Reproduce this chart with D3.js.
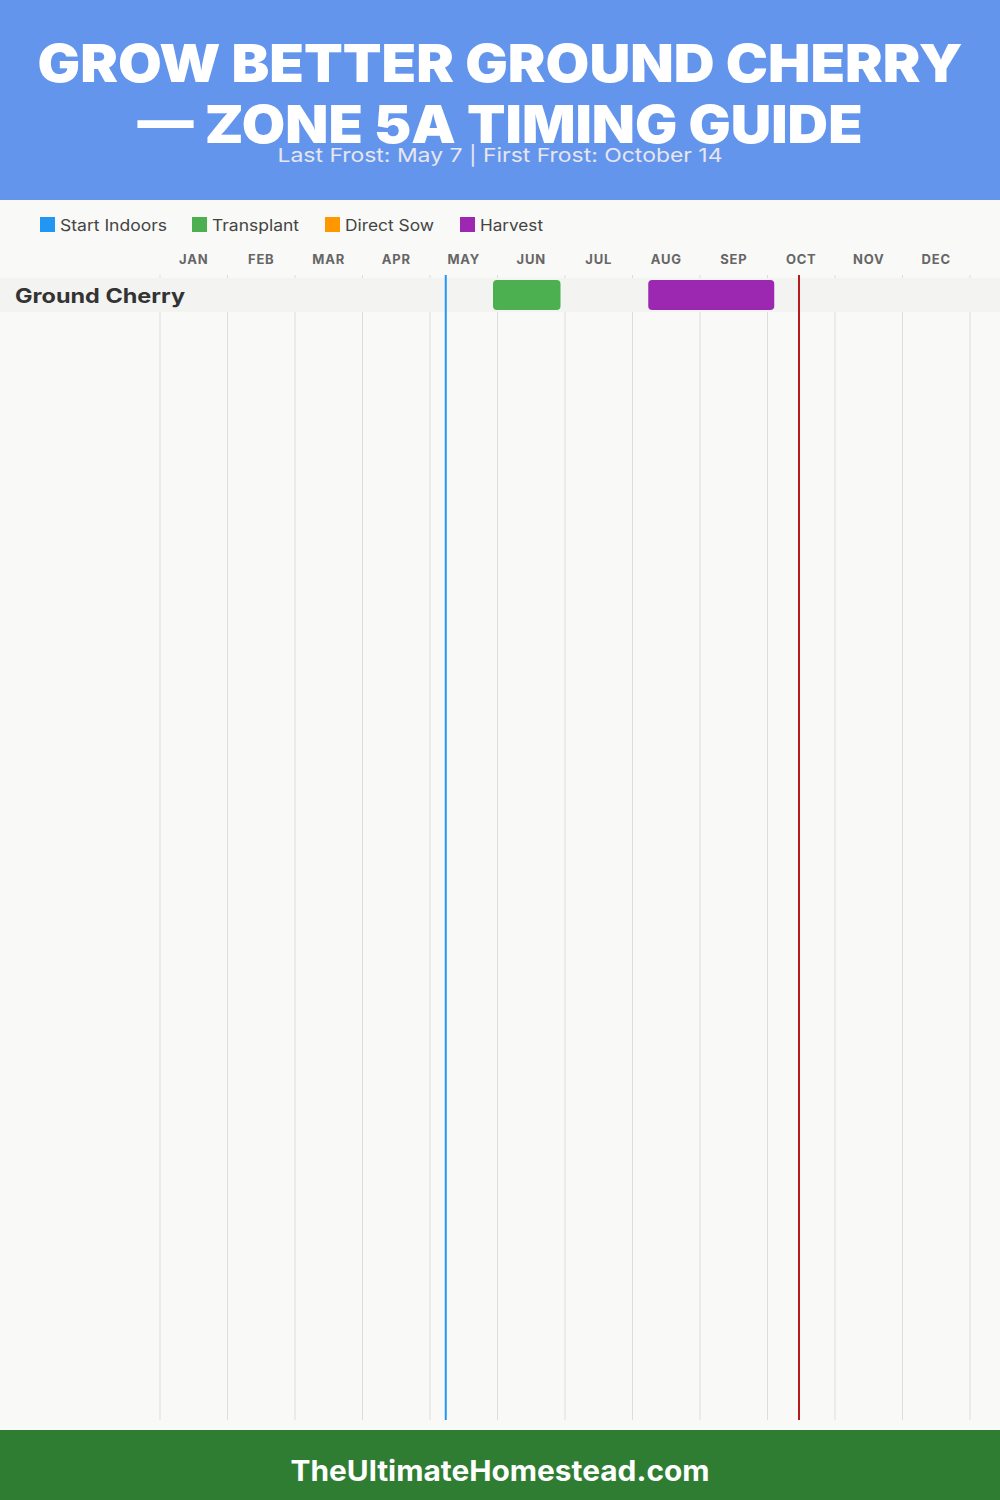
<!DOCTYPE html>
<html><head><meta charset="utf-8">
<script src="https://cdn.jsdelivr.net/npm/d3@7"></script>
<style>html,body{margin:0;padding:0;background:#f9f9f7;}svg{display:block;}</style>
</head><body>
<script>
const months = ["JAN","FEB","MAR","APR","MAY","JUN","JUL","AUG","SEP","OCT","NOV","DEC"];
const crops = ["Ground Cherry"];
const legendNames = ["Start Indoors","Transplant","Direct Sow","Harvest"];
const legendColors = ["#2196F3","#4CAF50","#FF9800","#9C27B0"];
// activities: crop, type, start [month index, day], end [month index, day]
const activityCrop = ["Ground Cherry","Ground Cherry"];
const activityType = ["Transplant","Harvest"];
const activityStart = [[4,28],[7,7]];
const activityEnd = [[5,28],[9,3]];
const lastFrost = [4,7];
const firstFrost = [9,14];
const titleLines = ["GROW BETTER GROUND CHERRY","— ZONE 5A TIMING GUIDE"];
const subtitle = "Last Frost: May 7 | First Frost: October 14";
const footer = "TheUltimateHomestead.com";

(function(){
const W = 1000, H = 1500;
const svg = d3.select("body").append("svg").attr("width", W).attr("height", H);
const FONT = "Inter, 'Open Sans', sans-serif";

svg.append("rect").attr("width", W).attr("height", H).attr("fill", "#f9f9f7");
svg.append("rect").attr("width", W).attr("height", 200).attr("fill", "#6495ED");

function stretch(t, target) {
  t.attr("textLength", target).attr("lengthAdjust", "spacingAndGlyphs");
}
const tl1 = svg.append("text").attr("x", 500).attr("y", 82).attr("text-anchor","middle")
  .attr("font-family", FONT).attr("font-weight", 900).attr("font-size", 52).attr("fill","#fff").text(titleLines[0]);
stretch(tl1, 925);
const tl2 = svg.append("text").attr("x", 500).attr("y", 143).attr("text-anchor","middle")
  .attr("font-family", FONT).attr("font-weight", 900).attr("font-size", 52).attr("fill","#fff").text(titleLines[1]);
stretch(tl2, 725);
const st = svg.append("text").attr("x", 500).attr("y", 162).attr("text-anchor","middle")
  .attr("font-family", FONT).attr("font-size", 19).attr("fill","#e6e6ee").text(subtitle);
stretch(st, 445);

// legend
const legX = [40,192,325,460];
const legW = [107,87,89,63];
legendNames.forEach((n,i)=>{
  svg.append("rect").attr("x", legX[i]).attr("y", 217).attr("width", 15).attr("height", 15).attr("fill", legendColors[i]);
  const t = svg.append("text").attr("x", legX[i]+20).attr("y", 231).attr("font-family", FONT).attr("font-size", 16)
    .attr("fill", "#444").text(n);
  stretch(t, legW[i]);
});

const x = d3.scaleLinear().domain([0,12]).range([160,970]);
const pos = d => d[0] + d[1]/30;
const yTop = 275, yBottom = 1420;

// gridlines
svg.append("g").selectAll("line").data(d3.range(13)).join("line")
  .attr("x1", d=>x(d)).attr("x2", d=>x(d)).attr("y1", yTop).attr("y2", yBottom)
  .attr("stroke", "#dddddd").attr("stroke-width", 1);

// month labels
svg.append("g").selectAll("text").data(months).join("text")
  .attr("x", (d,i)=>x(i+0.5)).attr("y", 264).attr("text-anchor","middle")
  .attr("font-family", FONT).attr("font-weight", 700).attr("font-size", 13).attr("fill","#666")
  .attr("letter-spacing", 0.8).text(d=>d);

// rows
const y = d3.scaleBand().domain(crops).range([278, 278 + 34*crops.length]);
svg.append("g").selectAll("rect").data(crops).join("rect")
  .attr("x", 0).attr("width", W).attr("y", d=>y(d)).attr("height", y.bandwidth()).attr("fill", "#f3f3f2");
svg.append("g").selectAll("text").data(crops).join("text")
  .attr("x", 15).attr("y", d=>y(d)+y.bandwidth()/2+8).attr("font-family", FONT).attr("font-weight", 700)
  .attr("font-size", 20).attr("fill", "#333").attr("textLength", 170).attr("lengthAdjust","spacingAndGlyphs").text(d=>d);

// frost lines
svg.append("line").attr("x1", x(pos(lastFrost))).attr("x2", x(pos(lastFrost))).attr("y1", yTop).attr("y2", yBottom)
  .attr("stroke", "#2196F3").attr("stroke-width", 2);
svg.append("line").attr("x1", x(pos(firstFrost))).attr("x2", x(pos(firstFrost))).attr("y1", yTop).attr("y2", yBottom)
  .attr("stroke", "#B71C1C").attr("stroke-width", 2);

// bars
const colorOf = d3.scaleOrdinal().domain(legendNames).range(legendColors);
svg.append("g").selectAll("rect").data(activityType.map((t,i)=>i)).join("rect")
  .attr("x", i=>x(pos(activityStart[i]))).attr("width", i=>x(pos(activityEnd[i]))-x(pos(activityStart[i])))
  .attr("y", i=>y(activityCrop[i])+2).attr("height", y.bandwidth()-4).attr("rx", 4)
  .attr("fill", i=>colorOf(activityType[i]));

// footer
svg.append("rect").attr("y", 1430).attr("width", W).attr("height", 70).attr("fill", "#2E7D32");
const ft = svg.append("text").attr("x", 500).attr("y", 1481).attr("text-anchor","middle")
  .attr("font-family", FONT).attr("font-weight", 700).attr("font-size", 28).attr("fill","#fff").text(footer);
stretch(ft, 419);
})();
</script>
</body></html>
